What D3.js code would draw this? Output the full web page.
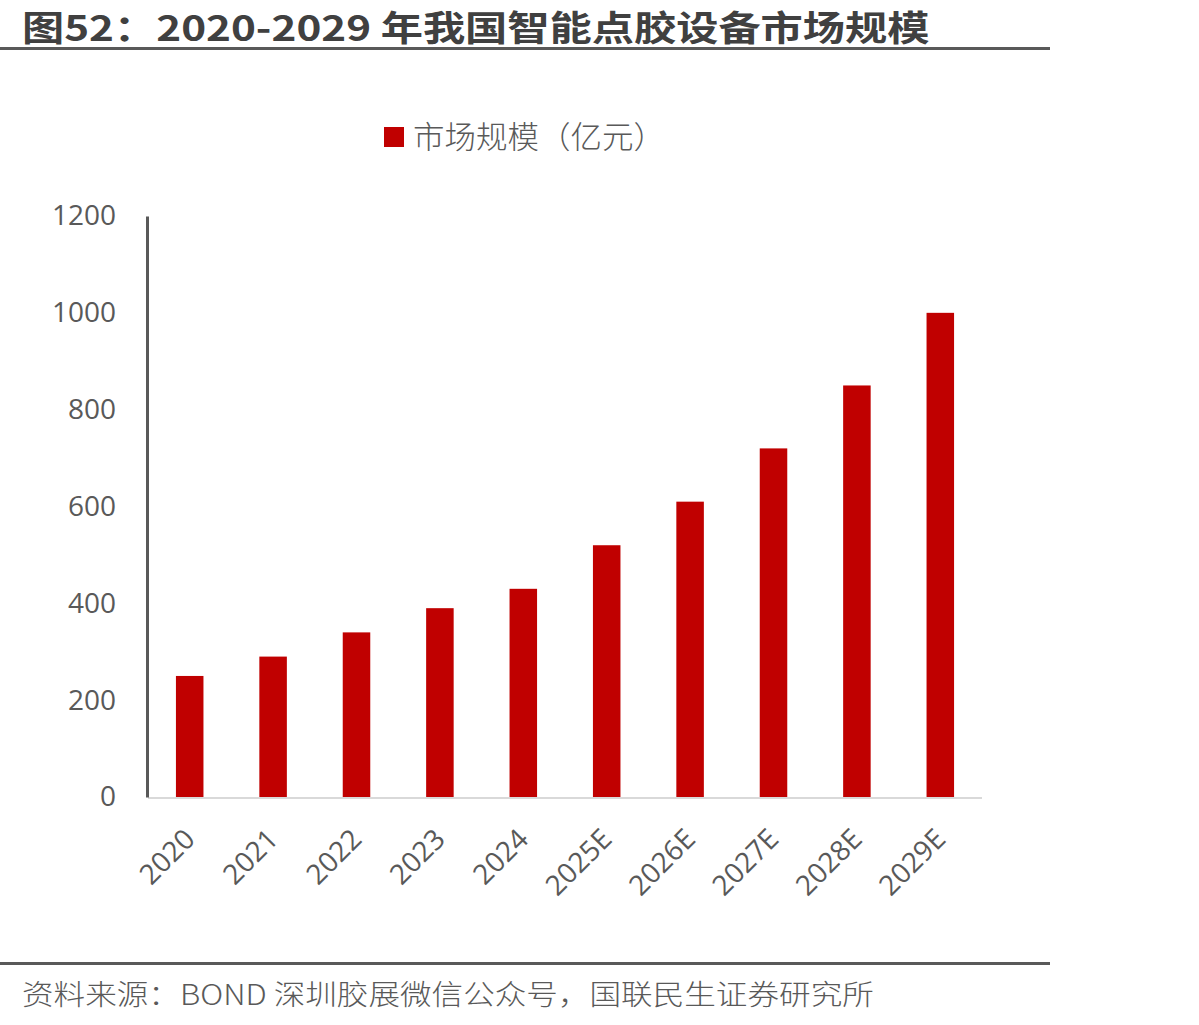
<!DOCTYPE html>
<html>
<head>
<meta charset="utf-8">
<script src="https://cdn.jsdelivr.net/npm/d3@7"></script>
<style>
  body { margin: 0; background: #fff; }
  svg { display: block; }
</style>
</head>
<body>
<svg id="chart"></svg>
<script>
var years = ["2020", "2021", "2022", "2023", "2024", "2025E", "2026E", "2027E", "2028E", "2029E"];
var marketSize = [250, 290, 340, 390, 430, 520, 610, 720, 850, 1000];
var yTicks = [0, 200, 400, 600, 800, 1000, 1200];
var titleText = "图52：2020-2029 年我国智能点胶设备市场规模";
var legendText = "市场规模（亿元）";
var sourceText = "资料来源：BOND 深圳胶展微信公众号，国联民生证券研究所";

var width = 1199, height = 1025;
var cjk = "'Noto Sans CJK SC', sans-serif";
var latin = "'Open Sans', 'Noto Sans CJK SC', sans-serif";

var svg = d3.select("#chart")
  .attr("width", width)
  .attr("height", height);

// squeeze a text horizontally to a given width
function fitWidth(sel, x0, y0, w) {
  var natural = sel.node().getComputedTextLength();
  var k = w / natural;
  sel.attr("transform", "translate(" + x0 + "," + y0 + ") scale(" + k + ",1)");
}

// title + rules
var title = svg.append("text")
  .attr("font-family", cjk)
  .attr("font-weight", "bold")
  .attr("font-size", 35)
  .attr("fill", "#404040")
  .text(titleText);
fitWidth(title, 22, 41, 908);

svg.append("line")
  .attr("x1", 0).attr("x2", 1050)
  .attr("y1", 48.5).attr("y2", 48.5)
  .attr("stroke", "#595959")
  .attr("stroke-width", 3);

svg.append("line")
  .attr("x1", 0).attr("x2", 1050)
  .attr("y1", 963.5).attr("y2", 963.5)
  .attr("stroke", "#595959")
  .attr("stroke-width", 3);

var source = svg.append("text")
  .attr("font-family", cjk)
  .attr("font-weight", 300)
  .attr("font-size", 28)
  .attr("fill", "#595959")
  .text(sourceText);
fitWidth(source, 22, 1005, 852);

// legend
var legend = svg.append("g").attr("transform", "translate(384,127)");
legend.append("rect")
  .attr("width", 20).attr("height", 20)
  .attr("fill", "#c00000");
var legendLabel = legend.append("text")
  .attr("font-family", cjk)
  .attr("font-weight", 300)
  .attr("font-size", 31)
  .attr("fill", "#595959")
  .text(legendText);
fitWidth(legendLabel, 29, 21, 252);

// plot
var x = d3.scaleBand()
  .domain(years)
  .range([148, 982])
  .paddingInner(0.67)
  .paddingOuter(0.335);

var y = d3.scaleLinear()
  .domain([0, 1200])
  .range([797, 216]);

svg.append("g")
  .selectAll("rect")
  .data(marketSize)
  .enter().append("rect")
  .attr("x", function (d, i) { return x(years[i]); })
  .attr("width", x.bandwidth())
  .attr("y", function (d) { return y(d); })
  .attr("height", function (d) { return y(0) - y(d); })
  .attr("fill", "#c00000");

// x axis line
svg.append("line")
  .attr("x1", 148).attr("x2", 982)
  .attr("y1", 798).attr("y2", 798)
  .attr("stroke", "#d9d9d9")
  .attr("stroke-width", 2);

// y axis
var yAxis = svg.append("g")
  .attr("transform", "translate(147,0)")
  .call(d3.axisLeft(y).tickValues(yTicks).tickFormat(d3.format("d")).tickSize(0).tickPadding(31));
yAxis.select(".domain")
  .attr("stroke", "#595959")
  .attr("stroke-width", 3);
yAxis.selectAll("text")
  .attr("font-family", latin)
  .attr("font-size", 28)
  .attr("fill", "#595959");

// x labels
svg.append("g")
  .selectAll("text")
  .data(years)
  .enter().append("text")
  .attr("transform", function (d) {
    return "translate(" + (x(d) + x.bandwidth() / 2 - 8) + ",826) rotate(-45)";
  })
  .attr("text-anchor", "end")
  .attr("dy", "0.75em")
  .attr("font-family", latin)
  .attr("font-size", 28)
  .attr("fill", "#595959")
  .text(function (d) { return d; });
</script>
</body>
</html>
